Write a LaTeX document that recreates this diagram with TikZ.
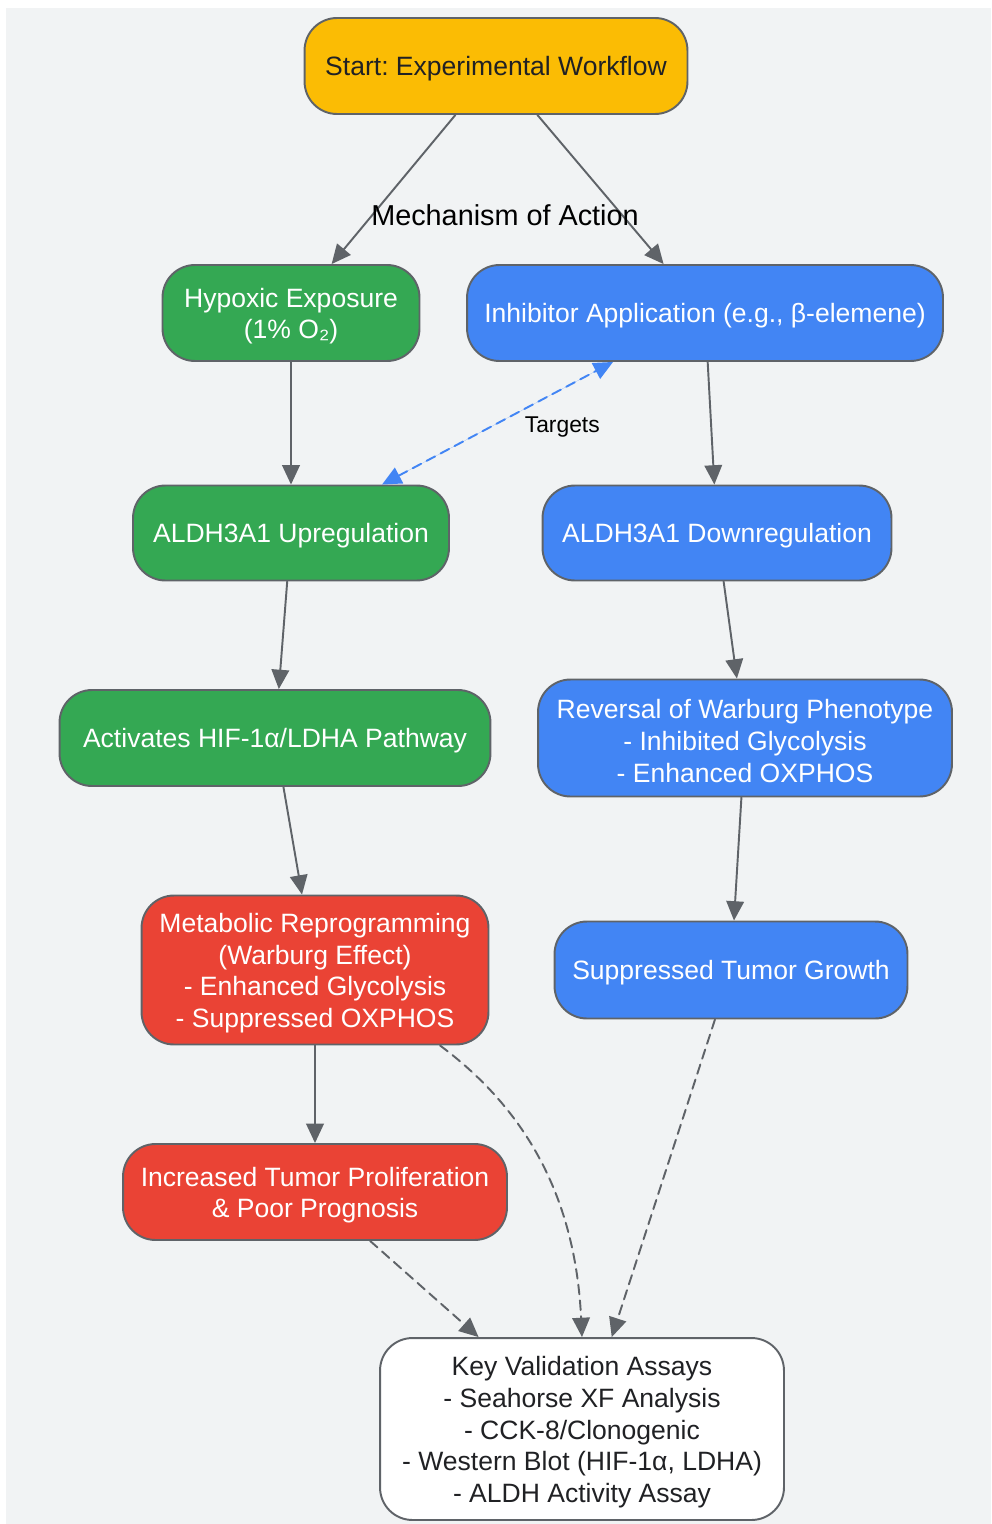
\documentclass[tikz,border=0pt]{standalone}
\usepackage{fontspec}
\setmainfont{Liberation Sans}
\frenchspacing
\usetikzlibrary{arrows.meta,calc}
\definecolor{bgcol}{HTML}{F1F3F4}
\definecolor{edgecol}{HTML}{5F6368}
\definecolor{startcol}{HTML}{FBBC04}
\definecolor{greencol}{HTML}{34A853}
\definecolor{bluecol}{HTML}{4285F4}
\definecolor{redcol}{HTML}{EA4335}
\definecolor{darktxt}{HTML}{202124}
\newcommand\boxfont{\fontsize{15.1}{18.1}\selectfont}
\newcommand\lift{\rule{0pt}{14.5pt}}

\begin{document}
\begin{tikzpicture}[line cap=round,line join=round,>={Triangle[length=11pt,width=10pt]},x=0.02cm,y=-0.02cm,
		wbox/.style={draw=edgecol,line width=1.1pt,rounded corners=0.65cm,align=center,inner sep=0pt,font=\boxfont},
		flow/.style={->,draw=edgecol,line width=1.1pt},
		dflow/.style={flow,dash pattern=on 5.5pt off 3.5pt}]
		\useasboundingbox (0,0) rectangle (991,1524);
		\fill[bgcol] (6,8) rectangle (991,1524);
		% boxes
		\node[wbox,fill=startcol,text=darktxt,minimum width=7.66cm,minimum height=1.92cm] (start) at (496,66) {\lift Start: Experimental Workflow};
		\node[wbox,fill=greencol,text=white,minimum width=5.14cm,minimum height=1.92cm] (hypox) at (291,313) {\lift Hypoxic Exposure\\(1\% O₂)};
		\node[wbox,fill=bluecol,text=white,minimum width=9.52cm,minimum height=1.92cm] (inhib) at (705,313) {\lift Inhibitor Application (e.g., β-elemene)};
		\node[wbox,fill=greencol,text=white,minimum width=6.32cm,minimum height=1.9cm] (aldhup) at (291,533) {\lift ALDH3A1 Upregulation};
		\node[wbox,fill=bluecol,text=white,minimum width=6.98cm,minimum height=1.9cm] (aldhdown) at (717,533) {\lift ALDH3A1 Downregulation};
		\node[wbox,fill=greencol,text=white,minimum width=8.62cm,minimum height=1.92cm] (hif) at (275,738) {\lift Activates HIF-1α/LDHA Pathway};
		\node[wbox,fill=bluecol,text=white,minimum width=8.28cm,minimum height=2.34cm] (revers) at (745,738) {\lift Reversal of Warburg Phenotype\\- Inhibited Glycolysis\\- Enhanced OXPHOS};
		\node[wbox,fill=redcol,text=white,minimum width=6.94cm,minimum height=2.98cm] (metab) at (315,970) {\lift Metabolic Reprogramming\\(Warburg Effect)\\- Enhanced Glycolysis\\- Suppressed OXPHOS};
		\node[wbox,fill=bluecol,text=white,minimum width=7.06cm,minimum height=1.94cm] (suppr) at (731,970) {\lift Suppressed Tumor Growth};
		\node[wbox,fill=redcol,text=white,minimum width=7.68cm,minimum height=1.92cm] (incr) at (315,1192) {\lift Increased Tumor Proliferation\\\& Poor Prognosis};
		\node[wbox,fill=white,text=darktxt,minimum width=8.08cm,minimum height=3.64cm] (assays) at (582,1429) {\lift Key Validation Assays\\- Seahorse XF Analysis\\- CCK-8/Clonogenic\\- Western Blot (HIF-1α, LDHA)\\- ALDH Activity Assay};
		% connectors
		\draw[flow] (start) -- (hypox);
		\draw[flow] (start) -- (inhib);
		\node[font=\fontsize{16.4}{19}\selectfont,text=black,inner sep=0pt] (mech) at (505,215) {Mechanism of Action};
		\draw[flow] (hypox) -- (aldhup);
		\draw[flow] (inhib) -- (aldhdown);
		\draw[dflow,<->,draw=bluecol,fill=bluecol] ($(aldhup.north)+(91,0)$) -- node[pos=0.5,anchor=west,xshift=15pt,yshift=-2pt,font=\fontsize{13}{15}\selectfont,text=black,inner sep=0pt] (targets) {Targets} ($(inhib.south)+(-92,0)$);
		\draw[flow] (aldhup) -- (hif);
		\draw[flow] (aldhdown) -- (revers);
		\draw[flow] (hif) -- (metab);
		\draw[flow] (revers) -- (suppr);
		\draw[flow] (metab) -- (incr);
		\draw[dflow] ($(metab.south)+(125,0)$) .. controls (520,1105) and (575,1190) .. (assays.north);
		\draw[dflow] (suppr) -- (assays);
		\draw[dflow] (incr) -- (assays);
	\end{tikzpicture}
\end{document}
